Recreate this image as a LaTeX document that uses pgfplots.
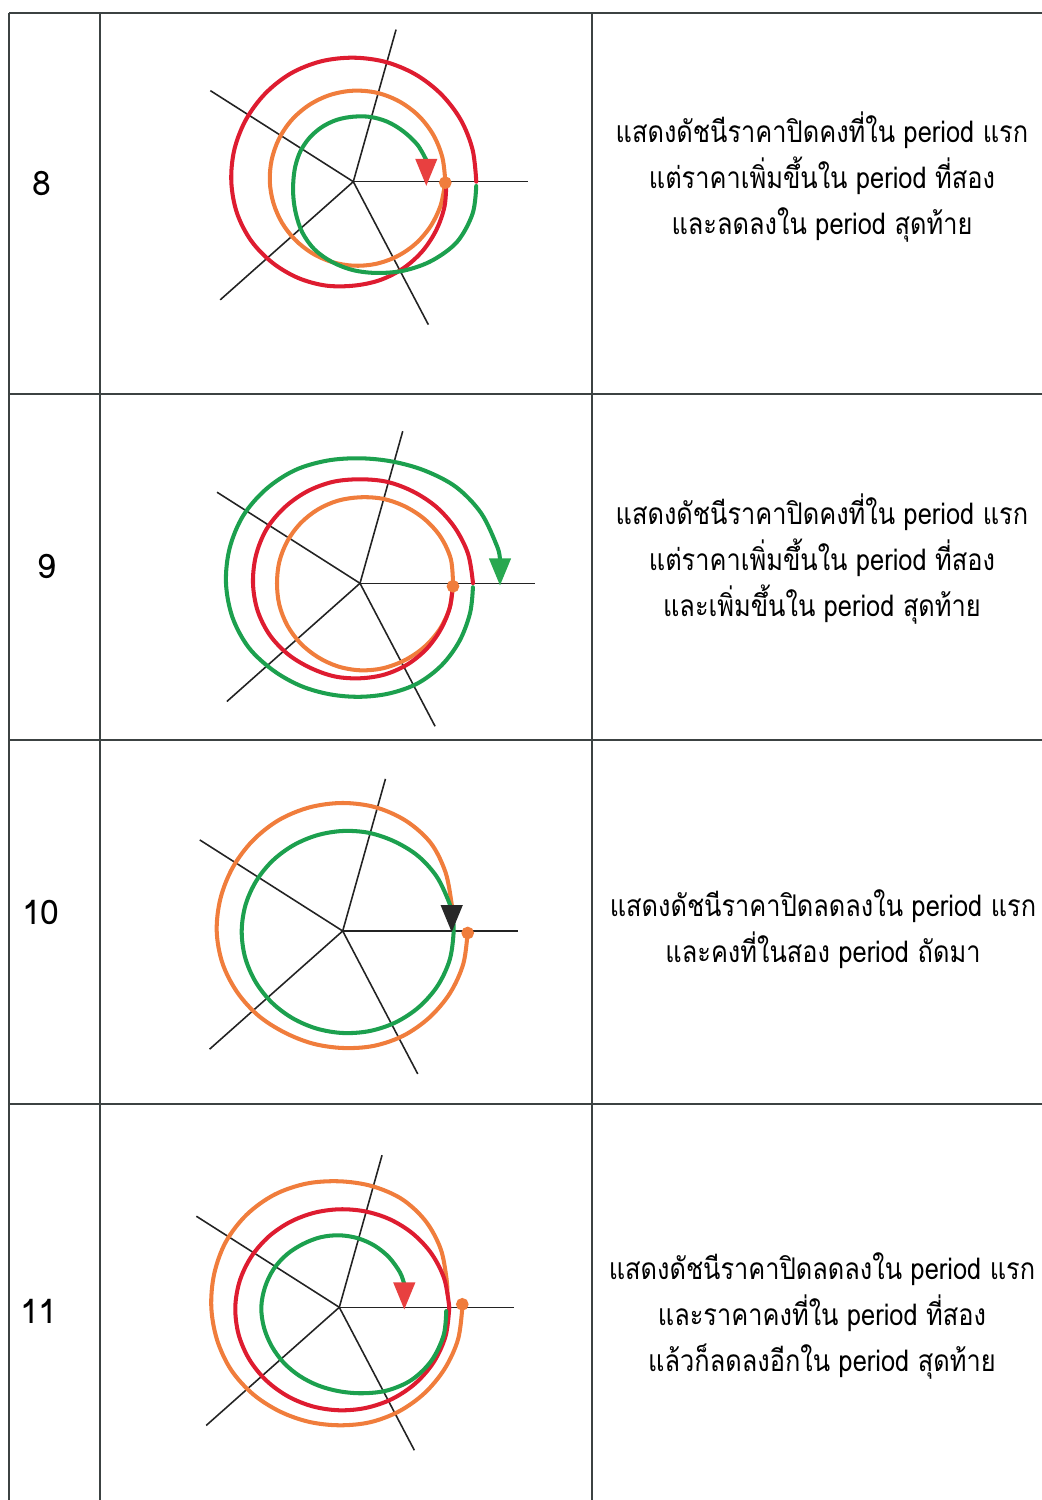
\documentclass[border=0pt]{standalone}
\usepackage{fontspec}
\setmainfont[Script=Thai]{Loma}
\newfontfamily\txtfont[Script=Thai, FakeStretch=0.85]{Loma}
\usepackage{pgfplots}
\pgfplotsset{compat=1.18}
\usepgfplotslibrary{polar}
\definecolor{cor}{RGB}{240,125,60}
\definecolor{cre}{RGB}{222,28,48}
\definecolor{cgr}{RGB}{28,160,78}
\definecolor{spk}{RGB}{35,35,35}
\definecolor{tbl}{RGB}{60,66,66}
\definecolor{tri}{RGB}{232,64,64}
\definecolor{trig}{RGB}{40,168,80}
\definecolor{trik}{RGB}{40,40,40}
\pgfplotsset{
  diag/.style={scale only axis, width=4cm, height=4cm, xmin=-200, xmax=200, ymin=-200, ymax=200, hide axis, clip=false, anchor=origin},
  spoke/.style={no marks, color=spk, line width=0.45pt, data cs=polar},
  crv/.style={no marks, smooth, tension=0.56, line width=1.15pt, data cs=polar, line cap=round},
  tline/.style={no marks, color=tbl, line width=0.6pt},
  dot/.style={only marks, mark=*, mark size=1.6pt, mark options={fill=cor, draw=cor}},
  arr/.style={only marks, mark=triangle*, mark size=3.3pt, mark options={rotate=180, yscale=1.4, fill=#1, draw=#1}},
}
\newcommand{\spokes}{%
  \addplot[spoke] coordinates {(0,0) (74.3,158)};
  \addplot[spoke] coordinates {(0,0) (147.5,169.5)};
  \addplot[spoke] coordinates {(0,0) (221.6,178)};
  \addplot[spoke] coordinates {(0,0) (297.7,161.5)};
  \addplot[spoke] coordinates {(0,0) (0,175)};
}
\begin{document}
\begin{tikzpicture}
\useasboundingbox (0,0) rectangle (10.42,15);
\begin{axis}[at={(0,0)}, anchor=south west, scale only axis, width=10.42cm, height=15cm,
  xmin=0, xmax=1042, ymin=0, ymax=1500, y dir=reverse, hide axis, clip=false]
\addplot[tline] coordinates {(9,13) (1042,13)};
\addplot[tline] coordinates {(9,394) (1042,394)};
\addplot[tline] coordinates {(9,740) (1042,740)};
\addplot[tline] coordinates {(9,1104) (1042,1104)};
\addplot[tline] coordinates {(9,13) (9,1500)};
\addplot[tline] coordinates {(100,13) (100,1500)};
\addplot[tline] coordinates {(592,13) (592,1500)};
\begin{scope}[every node/.style={font=\fontsize{9.6}{10}\selectfont}]
\node at (axis cs:42,183) {8};
\node at (axis cs:47,566) {9};
\node at (axis cs:41,912) {10};
\node at (axis cs:39,1311) {11};
\end{scope}
\begin{scope}[every node/.style={align=center, font=\txtfont\fontsize{8.5}{13.1}\selectfont}]
\node at (axis cs:822,177) {แสดงดัชนีราคาปิดคงที่ใน period แรก\\แต่ราคาเพิ่มขึ้นใน period ที่สอง\\และลดลงใน period สุดท้าย};
\node at (axis cs:822,559) {แสดงดัชนีราคาปิดคงที่ใน period แรก\\แต่ราคาเพิ่มขึ้นใน period ที่สอง\\และเพิ่มขึ้นใน period สุดท้าย};
\node at (axis cs:823,929) {แสดงดัชนีราคาปิดลดลงใน period แรก\\และคงที่ในสอง period ถัดมา};
\node at (axis cs:822,1316) {แสดงดัชนีราคาปิดลดลงใน period แรก\\และราคาคงที่ใน period ที่สอง\\แล้วก็ลดลงอีกใน period สุดท้าย};
\end{scope}
\end{axis}

% Row 8
\begin{axis}[diag, at={(3.533cm,13.183cm)}]
\spokes
\addplot[crv, cor] coordinates {(0,92) (-15,90.5) (-30,89.2) (-45,87.9) (-60,86.5) (-75,85.2) (-90,84) (-105,83.1) (-120,82.5) (-135,82.2) (-150,82.3) (-165,82.7) (-180,83.5) (-195,84.5) (-210,85.8) (-225,87.2) (-240,88.5) (-255,89.8) (-270,91) (-285,92) (-300,92.5) (-315,92.8) (-330,92.7) (-345,92.3) (-360,92)};
\addplot[crv, cre] coordinates {(0,93) (-15,94.5) (-30,96) (-45,98) (-60,100) (-75,102) (-90,104) (-105,107.5) (-120,111) (-135,114.5) (-150,118) (-165,120.5) (-180,122) (-195,123.2) (-210,124) (-225,124.6) (-240,125) (-255,124.6) (-270,124) (-285,124) (-300,124) (-315,124) (-330,124) (-345,123.5) (-360,123)};
\addplot[crv, cgr] coordinates {(-2,123) (-15,123.5) (-30,120) (-45,111.5) (-60,102.5) (-75,94.5) (-90,88.5) (-105,83) (-120,78) (-135,72) (-150,66) (-165,62) (-180,60) (-195,60) (-210,61) (-225,62) (-240,63) (-255,64) (-270,65) (-285,67) (-300,69) (-315,71) (-330,74) (-343,76)};
\addplot[arr=tri] coordinates {(73,14)};
\addplot[dot] coordinates {(92,-1)};
\end{axis}

% Row 9
\begin{axis}[diag, at={(3.60cm,9.167cm)}]
\spokes
\addplot[crv, cor] coordinates {(0,93) (-15,93) (-30,92) (-45,90.5) (-60,89) (-75,88) (-90,87) (-105,86) (-120,85) (-135,84.5) (-150,84) (-165,83.5) (-180,83) (-195,83.5) (-210,84) (-225,84.5) (-240,85) (-255,85.5) (-270,86) (-285,87.5) (-300,89) (-315,91) (-330,93) (-345,94) (-360,93)};
\addplot[crv, cre] coordinates {(0,93) (-15,93) (-30,93) (-45,93.5) (-60,94) (-75,94.5) (-90,95) (-105,96.5) (-120,98) (-135,101) (-150,104) (-165,106) (-180,107) (-195,107.7) (-210,108) (-225,107) (-240,106) (-255,105) (-270,104) (-285,105) (-300,106) (-315,108) (-330,110) (-345,112) (-360,113)};
\addplot[crv, cgr] coordinates {(-2,113) (-15,114) (-30,115) (-45,115.7) (-60,115.5) (-75,114) (-90,113.5) (-105,115) (-120,118.5) (-135,123) (-150,128.5) (-165,132) (-180,134) (-195,135) (-210,135) (-225,133) (-240,130.5) (-255,127) (-270,125) (-285,126) (-300,130) (-315,136) (-330,140) (-345,142) (-350,142)};
\addplot[arr=trig] coordinates {(140,16)};
\addplot[dot] coordinates {(93,-3)};
\end{axis}

% Row 10
\begin{axis}[diag, at={(3.427cm,5.69cm)}]
\spokes
\addplot[crv, cor] coordinates {(0,125) (-15,125) (-30,124) (-45,122.5) (-60,121) (-75,119) (-90,117) (-105,116.5) (-120,117) (-135,119.5) (-150,122) (-165,124.5) (-180,126) (-195,126.5) (-210,127) (-225,127.5) (-240,128) (-255,128) (-270,128) (-285,128) (-300,127) (-315,124.5) (-330,118.5) (-345,112.5) (-352,111)};
\addplot[crv, cgr] coordinates {(8,110.7) (0,111) (-15,110.8) (-30,109.6) (-45,107.7) (-60,105.6) (-75,103.6) (-90,102) (-105,101) (-120,100.6) (-135,100.7) (-150,100.9) (-165,101.1) (-180,101) (-195,100.6) (-210,99.9) (-225,99.3) (-240,98.9) (-255,99.1) (-270,100) (-285,101.6) (-300,103.4) (-315,106.3) (-330,108.6) (-345,110.2) (-352,110.7)};
\addplot[arr=trik] coordinates {(109,17)};
\addplot[dot] coordinates {(125,-2)};
\end{axis}

% Row 11
\begin{axis}[diag, at={(3.393cm,1.927cm)}]
\spokes
\addplot[crv, cor] coordinates {(0,123) (-15,123) (-30,122) (-45,121) (-60,120) (-75,119) (-90,118) (-105,118.5) (-120,120) (-135,122.5) (-150,125) (-165,126.5) (-180,128) (-195,129.5) (-210,131) (-225,131) (-240,130) (-255,128) (-270,126) (-285,125.5) (-300,125) (-315,122) (-330,117) (-345,111) (-353,109)};
\addplot[crv, cre] coordinates {(0,110) (-15,110.1) (-30,109.2) (-45,107.6) (-60,105.8) (-75,104.1) (-90,103) (-105,102.6) (-120,102.8) (-135,103.4) (-150,104) (-165,104.3) (-180,104) (-195,103) (-210,101.5) (-225,99.9) (-240,98.5) (-255,97.8) (-270,98) (-285,99.3) (-300,101.5) (-315,104.1) (-330,106.7) (-345,108.8) (-360,110)};
\addplot[crv, cgr] coordinates {(-2,107) (-15,108) (-30,106.5) (-45,102.5) (-60,96) (-75,89) (-90,84) (-105,81) (-120,79.3) (-135,78.5) (-150,78) (-165,78) (-180,78) (-195,77) (-210,76) (-225,74.5) (-240,73) (-255,72.5) (-270,72) (-285,71.5) (-300,71) (-315,70.5) (-330,70) (-340,69)};
\addplot[arr=tri] coordinates {(65,16)};
\addplot[dot] coordinates {(123,3)};
\end{axis}
\end{tikzpicture}
\end{document}
